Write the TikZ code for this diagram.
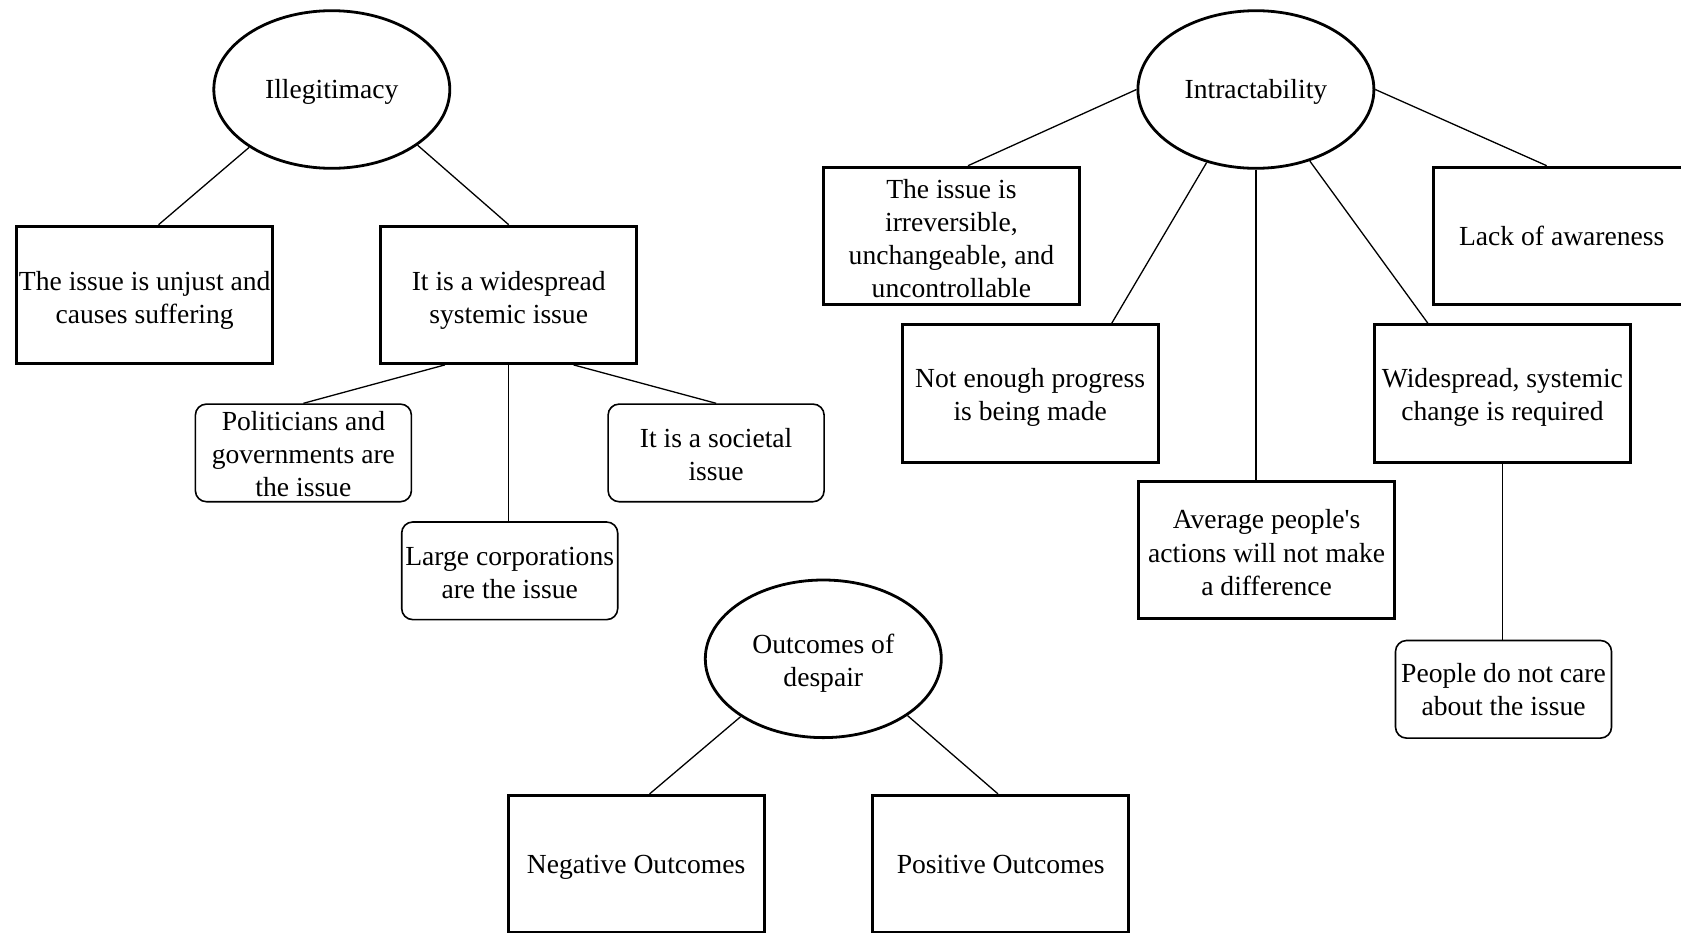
\documentclass[tikz,border=0pt]{standalone}
\usepackage{fontspec}
\setmainfont{Liberation Serif}[Ligatures=TeXOff]
\usetikzlibrary{shapes.geometric,calc}
\newcommand\upa{\rule{0pt}{10.8pt}}
\newcommand\upb{\rule{0pt}{12.2pt}}
\begin{document}
\begin{tikzpicture}[x=0.5pt,y=-0.5pt,
 every node/.style={font=\fontsize{13.8pt}{16.6pt}\selectfont, align=center, inner sep=0pt, text depth=-1.3pt},
 oval/.style={ellipse, draw, line width=1.4pt, minimum width=118pt, minimum height=78.8pt},
 single/.style={text depth=0.9pt},
 sqbox/.style={rectangle, draw, line width=1.5pt, minimum width=128pt, minimum height=68.6pt},
 rbox/.style={rectangle, draw, rounded corners=5.5pt, line width=0.8pt, minimum width=108pt, minimum height=48.8pt},
 link/.style={line width=0.65pt}]
\useasboundingbox (0,0) rectangle (1681,932);
\clip (0,0) rectangle (1681,932);
\fill[white] (0,0) rectangle (1681,932);
% Illegitimacy
\node[oval,single] (ill) at (331.8,89.5) {Illegitimacy};
\node[sqbox] (unj) at (144.7,294.8) {\upb The issue is unjust and\\causes suffering};
\node[sqbox] (wide) at (508.7,294.8) {\upb It is a widespread\\systemic issue};
\node[rbox] (pol) at (303.4,452.9) {\upa Politicians and\\governments are\\the issue};
\node[rbox] (soc) at (716.1,452.9) {\upa It is a societal\\issue};
\node[rbox] (corp) at (509.7,570.8) {\upa Large corporations\\are the issue};
% Intractability
\node[oval,single] (intr) at (1255.9,89.5) {Intractability};
\node[sqbox] (irr) at (951.4,235.8) {\upb The issue is\\irreversible,\\unchangeable, and\\uncontrollable};
\node[sqbox] (lack) at (1561.7,235.8) {Lack of awareness};
\node[sqbox] (prog) at (1030.2,393.4) {\upa Not enough progress\\is being made};
\node[sqbox] (chg) at (1502.4,393.4) {\upa Widespread, systemic\\change is required};
\node[sqbox] (avg) at (1266.6,549.9) {\upb Average people's\\actions will not make\\a difference};
\node[rbox] (care) at (1503.5,689.3) {People do not care\\about the issue};
% Outcomes
\node[oval] (out) at (823.3,658.8) {\upa Outcomes of\\despair};
\node[sqbox] (neg) at (636.2,864) {Negative Outcomes};
\node[sqbox] (pos) at (1000.7,864) {Positive Outcomes};
% connectors
\draw[link] (ill.215) -- ($(unj.north)+(13.9,0)$);
\draw[link] (ill.327) -- (wide.north);
\draw[link] ($(wide.south)+(-63.8,0)$) -- (pol.north);
\draw[link] (wide.south) -- (wide.south |- corp.north);
\draw[link] ($(wide.south)+(64.9,0)$) -- (soc.north);
\draw[link] (intr.180) -- ($(irr.north)+(16.6,0)$);
\draw[link] (intr.236) -- ($(prog.north)+(81.5,0)$);
\draw[link] (intr.south) -- (intr.south |- avg.north);
\draw[link] (intr.307) -- ($(chg.north)+(-74.5,0)$);
\draw[link] (intr.0) -- ($(lack.north)+(-15,0)$);
\draw[link] (chg.south) -- (chg.south |- care.north);
\draw[link] (out.215) -- ($(neg.north)+(13.4,0)$);
\draw[link] (out.326) -- ($(pos.north)+(-2.7,0)$);
\end{tikzpicture}
\end{document}
